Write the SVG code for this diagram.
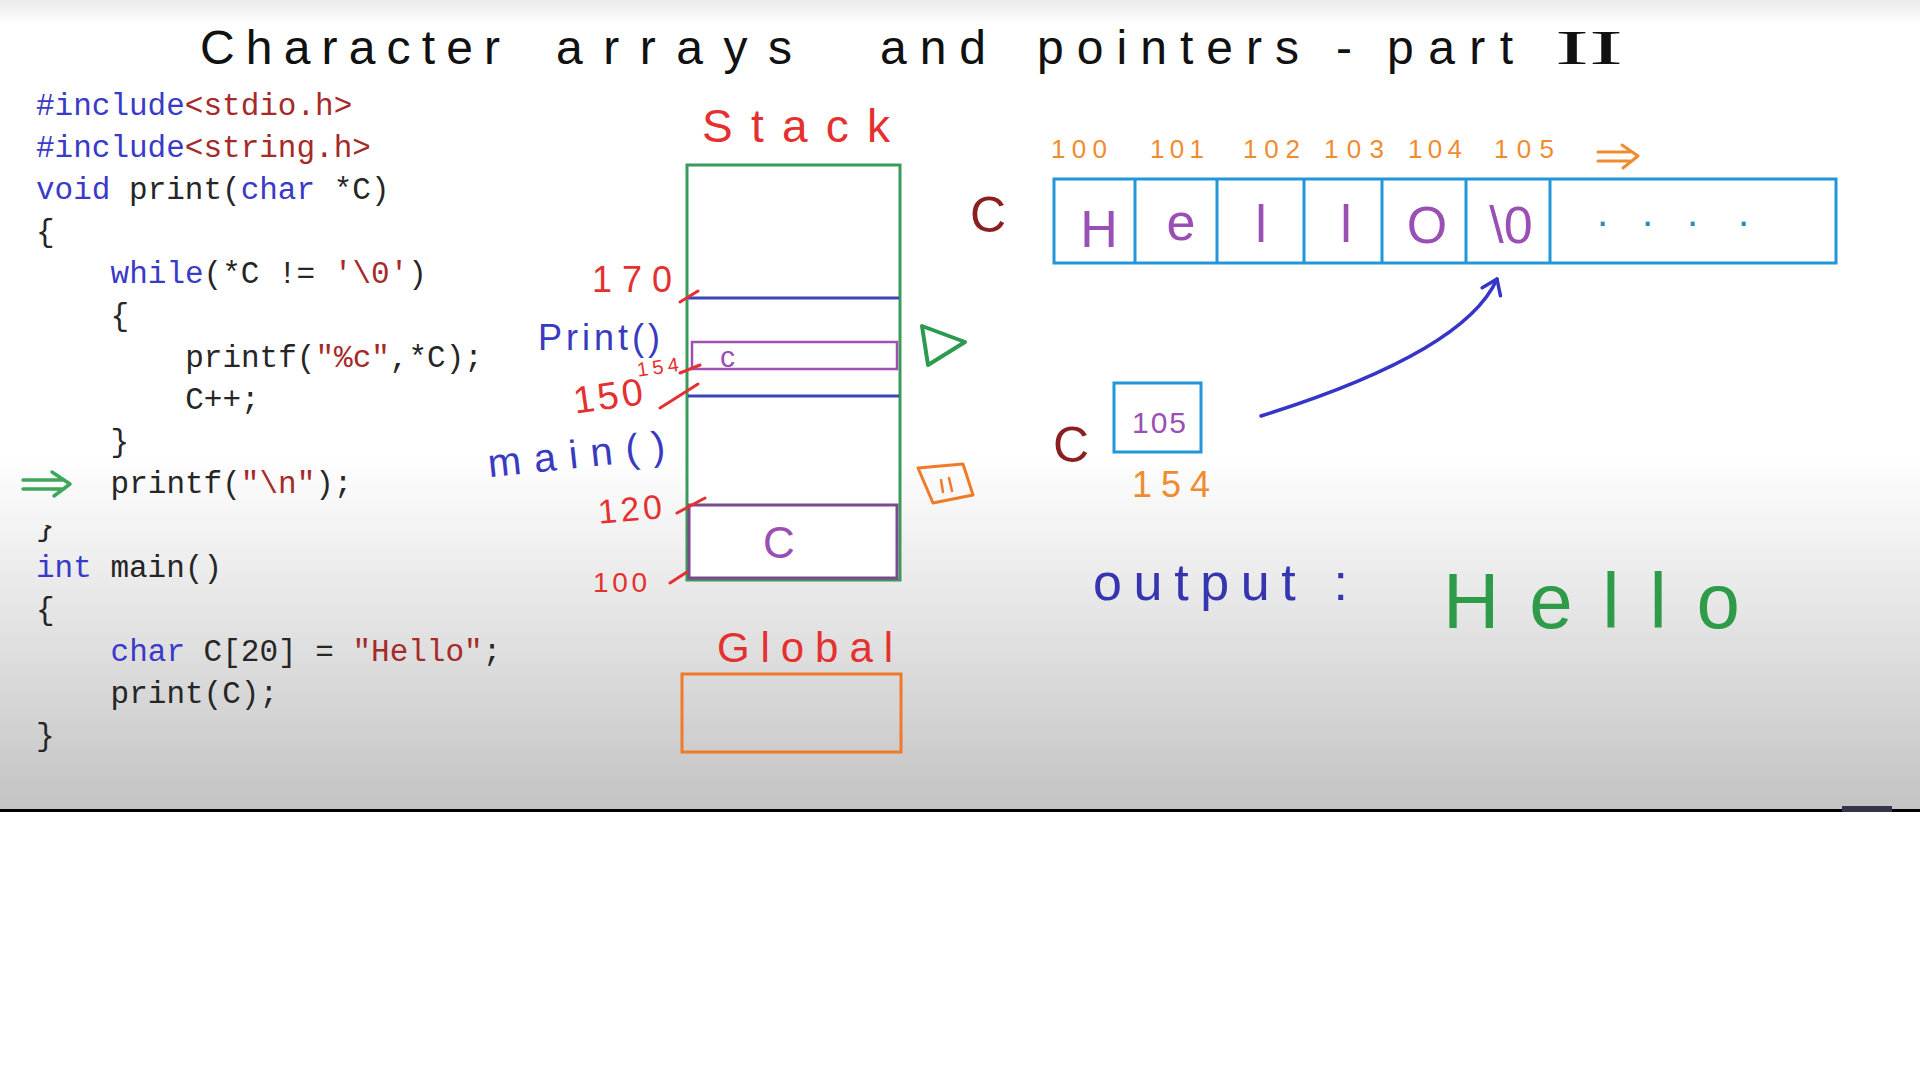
<svg xmlns="http://www.w3.org/2000/svg" width="1920" height="1080" viewBox="0 0 1920 1080">
<defs>
<linearGradient id="bg" x1="0" y1="0" x2="0" y2="810" gradientUnits="userSpaceOnUse">
<stop offset="0" stop-color="#ebebeb"/>
<stop offset="0.03" stop-color="#ffffff"/>
<stop offset="0.56" stop-color="#ffffff"/>
<stop offset="0.75" stop-color="#e6e6e6"/>
<stop offset="1" stop-color="#c3c3c3"/>
</linearGradient>
<clipPath id="braceClip"><rect x="30" y="525" width="40" height="25"/></clipPath>
<marker id="chev" viewBox="-16 -12 20 24" markerWidth="20" markerHeight="24" refX="0" refY="0" orient="auto" markerUnits="userSpaceOnUse">
<path d="M-14,-10 L0,0 L-14,10" fill="none" stroke="#3535c8" stroke-width="3.5" stroke-linecap="round" stroke-linejoin="round"/>
</marker>
</defs>
<style>
.code{font-family:"Liberation Mono","DejaVu Sans Mono",monospace;font-size:31px;fill:#262626}
.kw{fill:#3a3ac8}
.st{fill:#a52a2a}
.hand{font-family:"Liberation Sans","DejaVu Sans",sans-serif}
.red{fill:#e53030}
.hblue{fill:#3a3ac0}
.purple{fill:#9a4fb5}
.orange{fill:#f08c30}
.dred{fill:#8b1f1f}
.box{fill:none;stroke-width:3}
</style>
<rect x="0" y="0" width="1920" height="1080" fill="#ffffff"/>
<rect x="0" y="0" width="1920" height="810" fill="url(#bg)"/>
<rect x="0" y="809" width="1920" height="3" fill="#000000"/>
<rect x="1842" y="806" width="50" height="6" fill="#33334a"/>

<g id="title">
<text class="hand" font-size="48" fill="#111111" y="64"><tspan x="200" textLength="300" lengthAdjust="spacing">Character</tspan> <tspan x="556" textLength="236" lengthAdjust="spacing">arrays</tspan> <tspan x="880" textLength="106" lengthAdjust="spacing">and</tspan> <tspan x="1037" textLength="262" lengthAdjust="spacing">pointers</tspan> <tspan x="1336">-</tspan> <tspan x="1387" textLength="126" lengthAdjust="spacing">part</tspan> <tspan x="1555" font-family="Liberation Serif, serif" font-size="48" textLength="68" lengthAdjust="spacingAndGlyphs">II</tspan></text>
</g>

<g id="code">
<text class="code" x="36" y="115"><tspan class="kw">#include</tspan><tspan class="st">&lt;stdio.h&gt;</tspan></text>
<text class="code" x="36" y="157"><tspan class="kw">#include</tspan><tspan class="st">&lt;string.h&gt;</tspan></text>
<text class="code" x="36" y="199"><tspan class="kw">void</tspan> print(<tspan class="kw">char</tspan> *C)</text>
<text class="code" x="36" y="241">{</text>
<text class="code" x="110.6" y="283"><tspan class="kw">while</tspan>(*C != <tspan class="st">'\0'</tspan>)</text>
<text class="code" x="110.6" y="325">{</text>
<text class="code" x="185.2" y="367">printf(<tspan class="st">"%c"</tspan>,*C);</text>
<text class="code" x="185.2" y="409">C++;</text>
<text class="code" x="110.6" y="451">}</text>
<text class="code" x="110.6" y="493">printf(<tspan class="st">"\n"</tspan>);</text>
<text class="code" x="36" y="535" clip-path="url(#braceClip)">}</text>
<text class="code" x="36" y="577"><tspan class="kw">int</tspan> main()</text>
<text class="code" x="36" y="619">{</text>
<text class="code" x="110.6" y="661"><tspan class="kw">char</tspan> C[20] = <tspan class="st">"Hello"</tspan>;</text>
<text class="code" x="110.6" y="703">print(C);</text>
<text class="code" x="36" y="745">}</text>
<path d="M23,480 L64,480 M23,489 L64,489 M52,472 L70,484 L54,496" fill="none" stroke="#3ea85a" stroke-width="3.5" stroke-linecap="round" stroke-linejoin="round"/>
</g>

<g id="stack">
<text class="hand red" font-size="46" x="702" y="142" textLength="188" lengthAdjust="spacing">Stack</text>
<rect x="687" y="165" width="213" height="415" fill="#ffffff" stroke="#3a9a5a" stroke-width="3"/>
<line x1="688" y1="298" x2="899" y2="298" stroke="#3a46b8" stroke-width="3"/>
<line x1="688" y1="396" x2="899" y2="396" stroke="#3a46b8" stroke-width="3"/>
<rect x="692" y="342" width="205" height="27" fill="none" stroke="#a050b0" stroke-width="2.5"/>
<text class="hand purple" font-size="30" x="720" y="367">c</text>
<rect x="689" y="505" width="208" height="73" fill="none" stroke="#7a4a8e" stroke-width="3"/>
<text class="hand purple" font-size="44" x="763" y="558">C</text>
<text class="hand red" font-size="36" x="592" y="292" textLength="80" lengthAdjust="spacing">170</text>
<text class="hand hblue" font-size="36" x="538" y="350" textLength="122" lengthAdjust="spacing">Print()</text>
<text class="hand red" font-size="20" x="637" y="374" textLength="42" lengthAdjust="spacing" transform="rotate(-8 658 368)">154</text>
<text class="hand red" font-size="38" x="573" y="409" textLength="70" lengthAdjust="spacing" transform="rotate(-8 608 396)">150</text>
<text class="hand hblue" font-size="40" x="487" y="468" textLength="178" lengthAdjust="spacing" transform="rotate(-6 576 452)">main()</text>
<text class="hand red" font-size="34" x="598" y="521" textLength="64" lengthAdjust="spacing" transform="rotate(-5 630 510)">120</text>
<text class="hand red" font-size="28" x="593" y="592" textLength="54" lengthAdjust="spacing">100</text>
<path d="M680,302 L698,291 M680,373 L700,365 M660,408 L698,384 M677,513 L705,498 M670,583 L687,572" fill="none" stroke="#e53030" stroke-width="3" stroke-linecap="round"/>
<path d="M922,326 L965,342 L928,365 Z" fill="none" stroke="#2e9a50" stroke-width="4" stroke-linejoin="round"/>
<path d="M918,468 L963,464 L973,495 L933,503 Z" fill="none" stroke="#f07a28" stroke-width="3" stroke-linejoin="round"/>
<path d="M941,480 L943,492 M949,478 L952,491" fill="none" stroke="#f07a28" stroke-width="2.5" stroke-linecap="round"/>
</g>

<g id="global">
<text class="hand red" font-size="42" x="717" y="662" textLength="176" lengthAdjust="spacing">Global</text>
<rect x="682" y="674" width="219" height="78" class="box" stroke="#f07a28"/>
</g>

<g id="array">
<text class="hand orange" font-size="26" y="158"><tspan x="1051" textLength="56" lengthAdjust="spacing">100</tspan><tspan x="1150" textLength="54" lengthAdjust="spacing">101</tspan><tspan x="1243" textLength="57" lengthAdjust="spacing">102</tspan><tspan x="1324" textLength="60" lengthAdjust="spacing">103</tspan><tspan x="1408" textLength="54" lengthAdjust="spacing">104</tspan><tspan x="1494" textLength="60" lengthAdjust="spacing">105</tspan></text>
<path d="M1598,152 L1630,152 M1598,161 L1630,161 M1622,145 L1638,156 L1623,168" fill="none" stroke="#f08c30" stroke-width="3" stroke-linecap="round" stroke-linejoin="round"/>
<text class="hand dred" font-size="50" x="970" y="232">C</text>
<rect x="1054" y="179" width="782" height="84" fill="#ffffff" stroke="#2196d8" stroke-width="3"/>
<path d="M1135,179 V263 M1217,179 V263 M1304,179 V263 M1382,179 V263 M1466,179 V263 M1550,179 V263" stroke="#2196d8" stroke-width="3"/>
<g class="hand purple" font-size="52" text-anchor="middle">
<text x="1099" y="247">H</text>
<text x="1181" y="240">e</text>
<text x="1261" y="242">l</text>
<text x="1346" y="242">l</text>
<text x="1427" y="243">O</text>
<text x="1511" y="243">\0</text>
</g>
<text class="hand" font-size="40" fill="#2a8ab8" y="226" x="1597 1642 1687 1738">....</text>
</g>

<g id="pointer">
<text class="hand dred" font-size="50" x="1053" y="462">C</text>
<rect x="1114" y="383" width="87" height="69" fill="#ffffff" stroke="#2196d8" stroke-width="3"/>
<text class="hand purple" font-size="30" x="1132" y="433" textLength="54" lengthAdjust="spacing">105</text>
<text class="hand orange" font-size="36" x="1132" y="497" textLength="78" lengthAdjust="spacing">154</text>
</g>

<g id="output">
<text class="hand" font-size="52" fill="#3535b0" x="1093" y="600" textLength="255" lengthAdjust="spacing">output :</text>
<text class="hand" font-size="78" fill="#2e9b48" x="1443" y="628" textLength="297" lengthAdjust="spacing">Hello</text>
</g>

<g id="connectors">
<path d="M1261,416 C1360,385 1470,340 1497,279" fill="none" stroke="#3535c8" stroke-width="3.5" stroke-linecap="round" marker-end="url(#chev)"/>
</g>
</svg>
